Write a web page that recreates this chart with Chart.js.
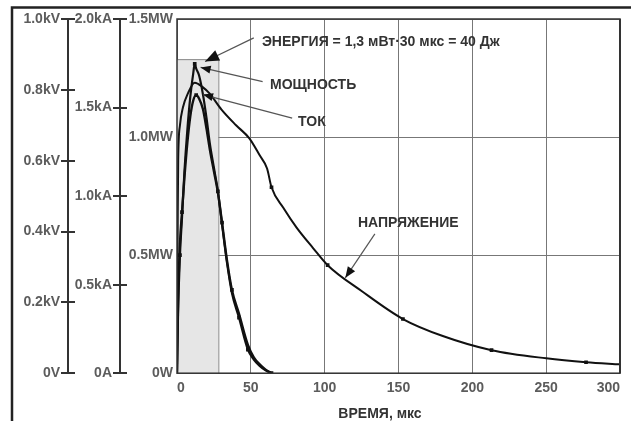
<!DOCTYPE html>
<html lang="ru">
<head>
<meta charset="UTF-8">
<title>Энергия импульса</title>
<script src="https://cdn.jsdelivr.net/npm/chart.js"></script>
<style>
  html, body { margin: 0; padding: 0; background: #fff; overflow: hidden; }
  canvas { display: block; }
</style>
</head>
<body>
<canvas id="pulse" width="631" height="421"></canvas>
<script>
// ---- data ----
const timeV = [0, 0.2, 0.5, 0.8, 2, 4, 7.4, 12, 17.6, 22, 30, 40, 49, 56, 61, 64, 72, 81, 92, 102, 125, 153, 180, 213, 250, 277, 300];
const voltageKV = [0, 0.2, 0.45, 0.6, 0.7, 0.75, 0.79, 0.82, 0.807, 0.79, 0.745, 0.70, 0.663, 0.615, 0.578, 0.525, 0.467, 0.411, 0.354, 0.305, 0.232, 0.153, 0.105, 0.065, 0.042, 0.031, 0.025];
const voltageMarks = [64, 102, 153, 213, 277];

const timeI = [0, 0.7, 2, 3.4, 5, 7, 9, 11, 13, 15, 17.6, 20, 22.3, 25, 27.7, 30.5, 33.8, 37.2, 42, 48, 52, 56, 60, 64];
const currentKA = [0, 0.4, 0.73, 0.91, 1.1, 1.3, 1.45, 1.54, 1.57, 1.55, 1.49, 1.38, 1.26, 1.14, 1.02, 0.85, 0.64, 0.47, 0.335, 0.16, 0.09, 0.05, 0.02, 0];
const currentMarks = [3.4, 13, 30.5, 37.2, 64];

const timeP = [0, 0.7, 2, 3.4, 5, 7, 9, 11, 12, 13, 15, 17.6, 20, 22.3, 25, 27.7, 30.5, 33.8, 37.2, 42, 48, 52, 56, 60, 64];
const powerMW = [0, 0.25, 0.5, 0.66, 0.85, 1.03, 1.17, 1.27, 1.31, 1.29, 1.26, 1.18, 1.08, 0.97, 0.87, 0.77, 0.63, 0.47, 0.34, 0.235, 0.1, 0.058, 0.031, 0.012, 0];
const powerMarks = [2, 12, 27.7, 42, 48];

const xTicks = [0, 50, 100, 150, 200, 250, 300];
const voltTicks = [0, 0.2, 0.4, 0.6, 0.8, 1.0];
const ampTicks = [0, 0.5, 1.0, 1.5, 2.0];
const wattTicks = [0, 0.5, 1.0, 1.5];

// shaded energy box: 0..28 us, up to ~1.33 MW
const energyEnd = 28;
const energyTop = 1.33;

// callouts (in time / MW coordinates)
const callouts = [
  { text: 'ЭНЕРГИЯ = 1,3 мВт·30 мкс = 40 Дж', at: [57.5, 1.40], from: [52, 1.42], tip: [19, 1.32], head: 14 },
  { text: 'МОЩНОСТЬ', at: [63, 1.22], from: [58, 1.235], tip: [16, 1.295], head: 10 },
  { text: 'ТОК', at: [82, 1.064], from: [78, 1.08], tip: [17.6, 1.18], head: 10 },
  { text: 'НАПРЯЖЕНИЕ', at: [122.5, 0.634], from: [134, 0.59], tip: [114, 0.404], head: 11 }
];

const pts = (xs, ys) => xs.map((x, i) => ({ x: x, y: ys[i] }));
const markRadius = marks => ctx => (ctx.raw && marks.includes(ctx.raw.x)) ? 2.6 : 0;

const tickFont = { family: '"Liberation Sans", Arial, sans-serif', size: 14, weight: 'bold' };
const grey = '#5c5c5c';

function lineSet(data, axis, marks, width) {
  return {
    data: data,
    yAxisID: axis,
    borderColor: '#111',
    borderWidth: width,
    backgroundColor: '#111',
    pointStyle: 'rect',
    pointRadius: markRadius(marks),
    pointBackgroundColor: '#111',
    pointBorderWidth: 0,
    cubicInterpolationMode: 'monotone',
    fill: false
  };
}

const decor = {
  id: 'decor',
  beforeDatasetsDraw(chart) {
    const { ctx, scales: { x, p } } = chart;
    const l = x.getPixelForValue(0), r = x.getPixelForValue(energyEnd);
    const t = p.getPixelForValue(energyTop), b = p.getPixelForValue(0);
    ctx.save();
    ctx.fillStyle = '#e6e6e6';
    ctx.fillRect(l, t, r - l, b - t);
    ctx.strokeStyle = '#888';
    ctx.lineWidth = 1;
    ctx.beginPath();
    ctx.moveTo(l, t + 0.5); ctx.lineTo(r + 0.5, t + 0.5); ctx.lineTo(r + 0.5, b);
    ctx.stroke();
    ctx.restore();
  },
  afterDatasetsDraw(chart) {
    const { ctx, chartArea: a, scales } = chart;
    const { x, p } = scales;
    ctx.save();
    // keep the strip right of the plot clean
    ctx.fillStyle = '#fff';
    ctx.fillRect(a.right + 2, 10, chart.width - a.right - 2, chart.height - 10);

    // plot frame
    ctx.strokeStyle = '#333';
    ctx.lineWidth = 1.5;
    ctx.strokeRect(a.left, a.top, a.right - a.left, a.bottom - a.top);
    ctx.lineWidth = 2;
    ctx.beginPath(); ctx.moveTo(a.right, a.top); ctx.lineTo(a.right, a.bottom); ctx.stroke();

    // right half of the cross ticks on the two extra axes
    ['v', 'i'].forEach(id => {
      const s = scales[id];
      ctx.strokeStyle = '#333';
      ctx.lineWidth = 2;
      s.ticks.forEach(tk => {
        const y = Math.round(s.getPixelForValue(tk.value));
        ctx.beginPath(); ctx.moveTo(s.right - 1, y); ctx.lineTo(s.right + 7, y); ctx.stroke();
      });
    });

    // callouts
    ctx.font = 'bold 14px "Liberation Sans", Arial, sans-serif';
    ctx.textBaseline = 'middle';
    callouts.forEach(c => {
      const fx = x.getPixelForValue(c.from[0]), fy = p.getPixelForValue(c.from[1]);
      const tx = x.getPixelForValue(c.tip[0]), ty = p.getPixelForValue(c.tip[1]);
      ctx.strokeStyle = '#555';
      ctx.lineWidth = 1.2;
      ctx.beginPath(); ctx.moveTo(fx, fy); ctx.lineTo(tx, ty); ctx.stroke();
      const ang = Math.atan2(ty - fy, tx - fx);
      const h = c.head, w = h * 0.4;
      ctx.fillStyle = '#111';
      ctx.beginPath();
      ctx.moveTo(tx, ty);
      ctx.lineTo(tx - h * Math.cos(ang) + w * Math.sin(ang), ty - h * Math.sin(ang) - w * Math.cos(ang));
      ctx.lineTo(tx - h * Math.cos(ang) - w * Math.sin(ang), ty - h * Math.sin(ang) + w * Math.cos(ang));
      ctx.closePath(); ctx.fill();
      ctx.fillStyle = '#333';
      ctx.textAlign = 'left';
      ctx.fillText(c.text, x.getPixelForValue(c.at[0]), p.getPixelForValue(c.at[1]));
    });

    // axis title
    ctx.fillStyle = '#333';
    ctx.textAlign = 'center';
    ctx.fillText('ВРЕМЯ, мкс', 380, 414);

    // outer frame (top and left edges)
    ctx.strokeStyle = '#222';
    ctx.lineWidth = 2.5;
    ctx.beginPath(); ctx.moveTo(631, 7.5); ctx.lineTo(12, 7.5); ctx.lineTo(12, 421); ctx.stroke();
    ctx.restore();
  }
};

function sideAxis(weight, width, min, max, ticks, fmt) {
  return {
    type: 'linear',
    position: 'left',
    weight: weight,
    min: min,
    max: max,
    afterFit: s => { s.width = width; },
    afterBuildTicks: s => { s.ticks = ticks.map(v => ({ value: v })); },
    border: { display: true, color: '#333', width: 2 },
    grid: { drawOnChartArea: false, drawTicks: true, tickLength: 7, color: '#333', lineWidth: 2 },
    ticks: { padding: 1, color: grey, font: tickFont, callback: fmt }
  };
}

new Chart(document.getElementById('pulse'), {
  type: 'line',
  data: {
    datasets: [
      lineSet(pts(timeV, voltageKV), 'v', voltageMarks, 2),
      lineSet(pts(timeI, currentKA), 'i', currentMarks, 2.4),
      lineSet(pts(timeP, powerMW), 'p', powerMarks, 2.2)
    ]
  },
  options: {
    responsive: false,
    animation: false,
    layout: { padding: { left: 14, right: 11, top: 19, bottom: 17 } },
    plugins: { legend: { display: false }, tooltip: { enabled: false } },
    scales: {
      x: {
        type: 'linear',
        min: 0, max: 300,
        afterBuildTicks: s => { s.ticks = xTicks.map(v => ({ value: v })); },
        border: { display: false },
        grid: { drawTicks: false, color: '#777', lineWidth: 1 },
        ticks: { padding: 7, color: grey, font: tickFont, maxRotation: 0, autoSkip: false, align: 'inner' }
      },
      p: {
        type: 'linear',
        position: 'left',
        weight: 0,
        min: 0, max: 1.5,
        afterFit: s => { s.width = 57; },
        afterBuildTicks: s => { s.ticks = wattTicks.map(v => ({ value: v })); },
        border: { display: false },
        grid: { drawTicks: false, color: '#777', lineWidth: 1 },
        ticks: { padding: 4, color: grey, font: tickFont, callback: v => v === 0 ? '0W' : v.toFixed(1) + 'MW' }
      },
      i: sideAxis(1, 52, 0, 2, ampTicks, v => v === 0 ? '0A' : v.toFixed(1) + 'kA'),
      v: sideAxis(2, 54, 0, 1, voltTicks, v => v === 0 ? '0V' : v.toFixed(1) + 'kV')
    }
  },
  plugins: [decor]
});
</script>
</body>
</html>
